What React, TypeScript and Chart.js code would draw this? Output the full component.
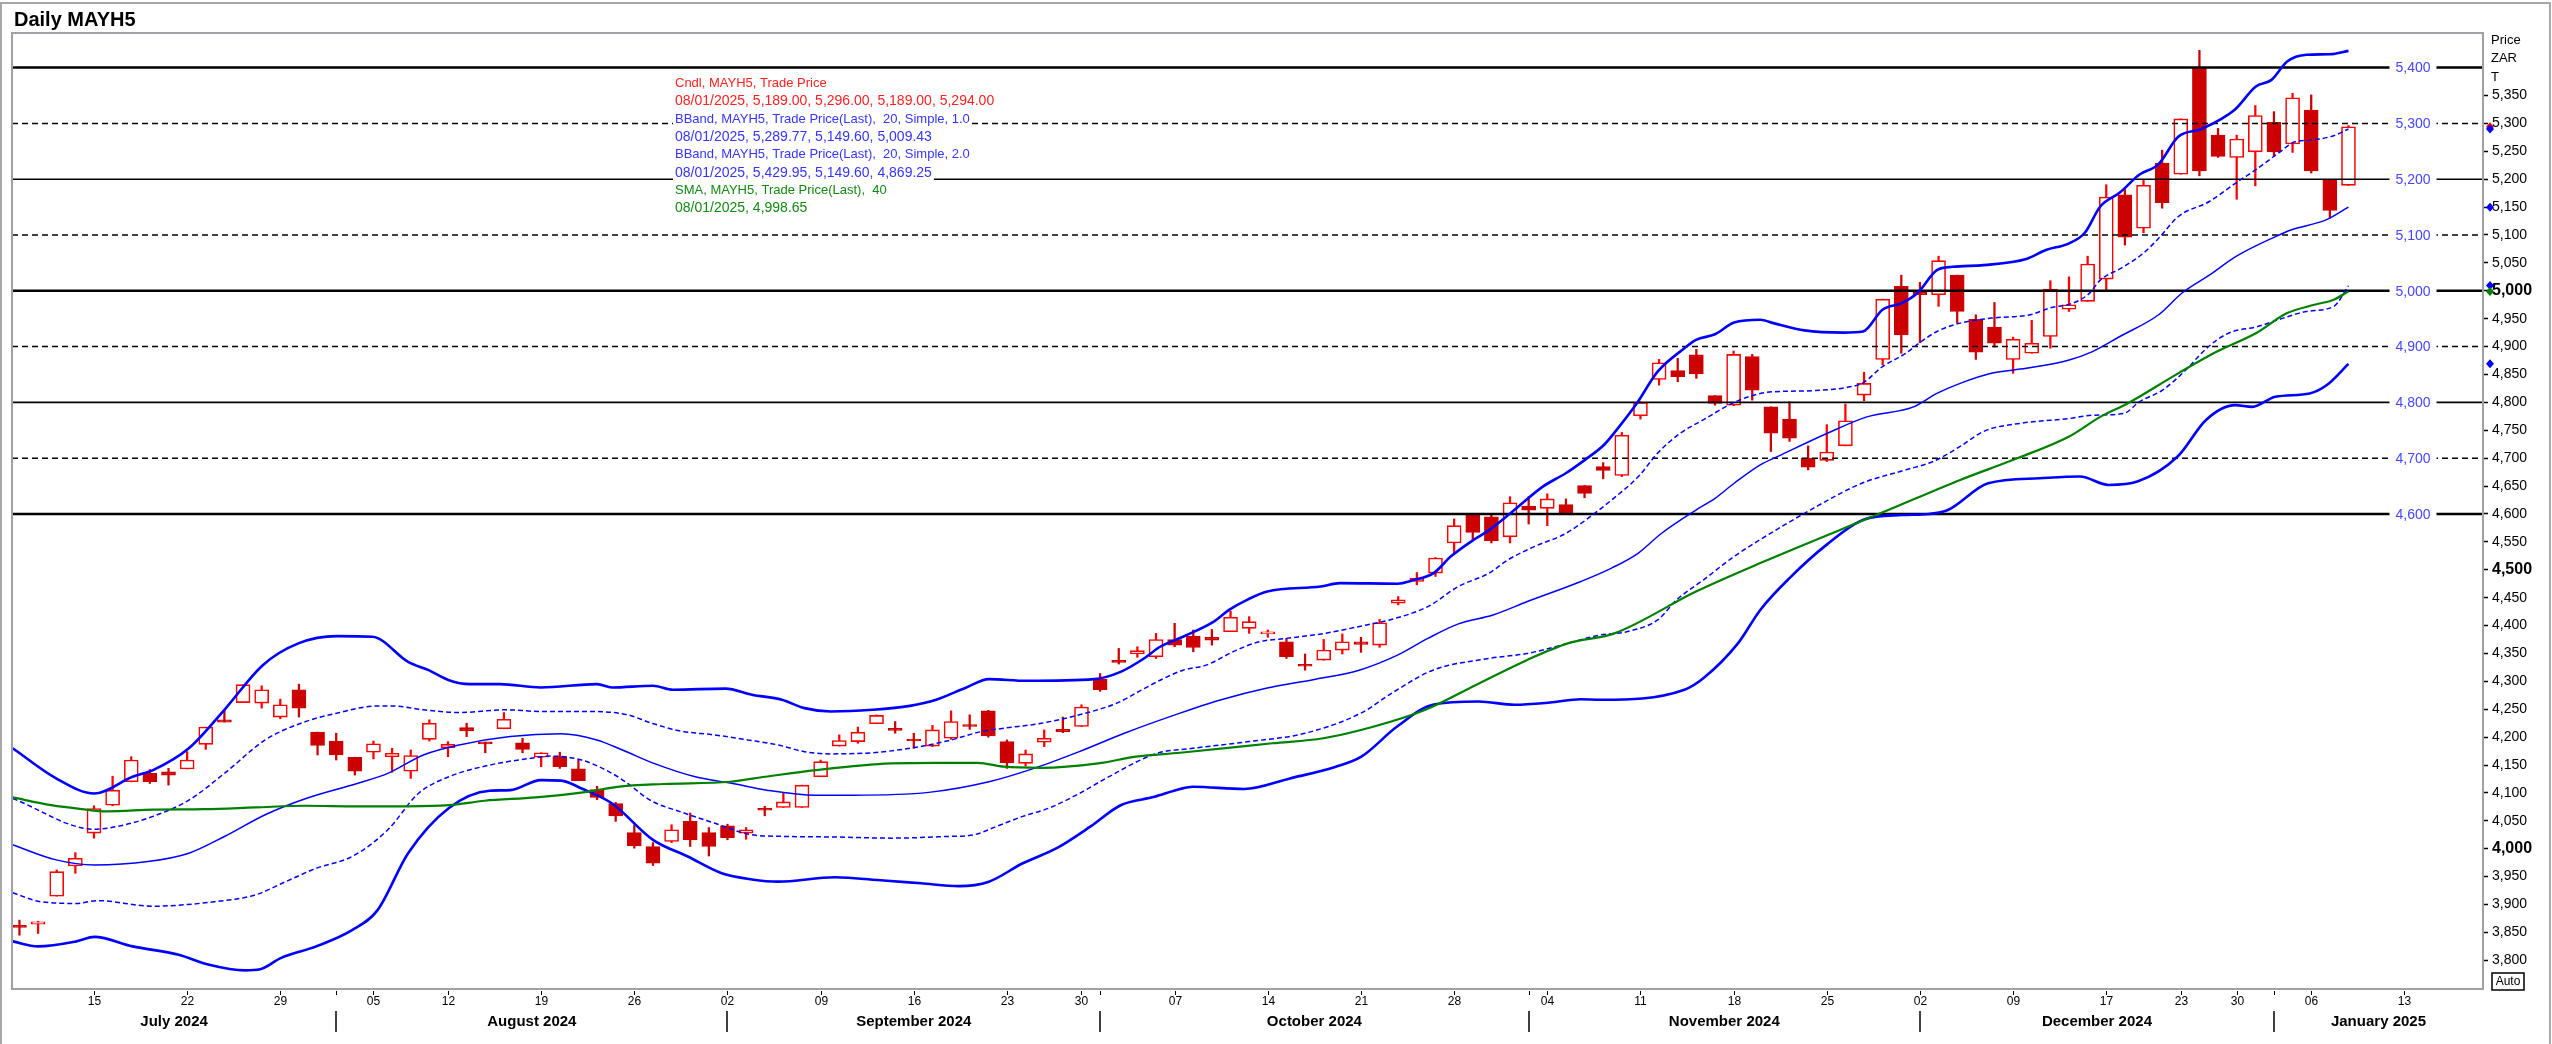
import React, { useEffect, useRef } from 'react';
import { Chart, registerables } from 'chart.js';

Chart.register(...registerables);

const FONT = "'Liberation Sans', Arial, Helvetica, sans-serif";

const TITLE = 'Daily MAYH5';

// Trading-day candles, 09/07/2024 .. 08/01/2025 (index 0..125)
const OPEN = [
  3861, 3865, 3915, 3969, 4028, 4078, 4120, 4135, 4138, 4143,
  4187, 4231, 4262, 4261, 4236, 4285, 4209, 4193, 4164, 4173,
  4165, 4139, 4196, 4181, 4217, 4191, 4215, 4190, 4164, 4165,
  4143, 4106, 4081, 4029, 4004, 4013, 4049, 4029, 4041, 4028,
  4072, 4074, 4074, 4129, 4184, 4192, 4224, 4214, 4195, 4184,
  4198, 4221, 4247, 4192, 4153, 4191, 4214, 4219, 4304, 4337,
  4349, 4344, 4375, 4381, 4379, 4389, 4395, 4385, 4371, 4329,
  4338, 4356, 4371, 4365, 4440, 4479, 4494, 4548, 4600, 4595,
  4559, 4614, 4610, 4617, 4651, 4685, 4669, 4776, 4841, 4857,
  4885, 4812, 4795, 4882, 4792, 4770, 4700, 4696, 4722, 4813,
  4877, 5008, 4997, 4993, 5028, 4949, 4935, 4877, 4888, 4918,
  4967, 4981, 5021, 5172, 5112, 5229, 5209, 5399, 5279, 5239,
  5249, 5302, 5263, 5324, 5199, 5189,
];
const HIGH = [
  3872, 3870, 3962, 3993, 4077, 4130, 4165, 4142, 4144, 4174,
  4218, 4249, 4294, 4292, 4268, 4295, 4209, 4207, 4164, 4193,
  4180, 4177, 4231, 4192, 4225, 4191, 4244, 4198, 4172, 4173,
  4159, 4112, 4083, 4043, 4011, 4043, 4064, 4038, 4044, 4038,
  4076, 4101, 4114, 4159, 4204, 4218, 4240, 4228, 4207, 4221,
  4247, 4240, 4248, 4195, 4177, 4213, 4236, 4258, 4314, 4359,
  4362, 4386, 4404, 4392, 4393, 4426, 4416, 4392, 4377, 4349,
  4375, 4385, 4379, 4411, 4452, 4495, 4522, 4591, 4600, 4598,
  4631, 4631, 4636, 4627, 4651, 4692, 4746, 4801, 4877, 4879,
  4895, 4812, 4892, 4886, 4792, 4801, 4722, 4760, 4797, 4854,
  4985, 5028, 5015, 5062, 5028, 4957, 4979, 4917, 4947, 5018,
  5025, 5062, 5190, 5182, 5199, 5252, 5308, 5431, 5291, 5279,
  5332, 5321, 5354, 5351, 5199, 5296,
];
const LOW = [
  3845, 3848, 3915, 3956, 4019, 4077, 4120, 4117, 4114, 4143,
  4178, 4227, 4262, 4252, 4233, 4236, 4168, 4159, 4132, 4161,
  4137, 4126, 4193, 4165, 4201, 4172, 4215, 4172, 4147, 4144,
  4122, 4088, 4049, 4001, 3970, 4011, 4004, 3987, 4016, 4017,
  4059, 4074, 4074, 4129, 4184, 4189, 4224, 4207, 4180, 4183,
  4196, 4214, 4200, 4144, 4148, 4183, 4208, 4219, 4282, 4331,
  4343, 4341, 4362, 4353, 4365, 4389, 4386, 4379, 4341, 4320,
  4338, 4349, 4352, 4361, 4437, 4473, 4488, 4530, 4554, 4548,
  4548, 4582, 4579, 4600, 4629, 4663, 4667, 4770, 4831, 4837,
  4843, 4795, 4794, 4804, 4712, 4730, 4679, 4694, 4722, 4803,
  4867, 4888, 4907, 4972, 4942, 4877, 4899, 4852, 4888, 4897,
  4963, 4981, 5000, 5082, 5104, 5148, 5209, 5206, 5239, 5164,
  5188, 5241, 5248, 5211, 5130, 5189,
];
const CLOSE = [
  3859, 3869, 3959, 3983, 4072, 4105, 4159, 4120, 4132, 4159,
  4218, 4227, 4294, 4285, 4258, 4252, 4185, 4168, 4139, 4188,
  4171, 4167, 4225, 4187, 4211, 4188, 4232, 4178, 4172, 4147,
  4122, 4092, 4059, 4005, 3974, 4034, 4016, 4004, 4020, 4034,
  4069, 4084, 4114, 4156, 4194, 4209, 4239, 4212, 4193, 4213,
  4228, 4219, 4202, 4154, 4170, 4198, 4210, 4254, 4285, 4334,
  4355, 4375, 4365, 4361, 4374, 4415, 4407, 4387, 4344, 4327,
  4356, 4371, 4366, 4405, 4446, 4485, 4521, 4579, 4567, 4552,
  4620, 4607, 4627, 4601, 4637, 4678, 4741, 4800, 4871, 4846,
  4851, 4798, 4886, 4822, 4745, 4736, 4684, 4711, 4767, 4834,
  4985, 4921, 4993, 5054, 4963, 4890, 4906, 4913, 4906, 5003,
  4975, 5048, 5168, 5096, 5189, 5158, 5308, 5215, 5241, 5272,
  5314, 5249, 5346, 5215, 5144, 5294,
];

// Indicator lines, [trading-day index, value]
const BB2_UPPER = [
  [-0.36, 4180], [1.97, 4126], [4.02, 4099], [6.07, 4129], [7.17, 4141], [9.09, 4180], [11.0, 4249], [13.06, 4329],
  [14.97, 4368], [17.03, 4381], [18.94, 4380], [20.86, 4335], [21.96, 4320], [23.05, 4302], [24.15, 4295], [25.79, 4295],
  [27.98, 4289], [31.0, 4295], [31.8, 4289], [34.0, 4292], [35.07, 4285], [37.89, 4287], [39.31, 4276], [40.92, 4267],
  [42.13, 4252], [43.55, 4246], [45.77, 4249], [47.79, 4256], [49.2, 4267], [50.82, 4289], [52.03, 4304], [54.05, 4301],
  [57.68, 4304], [59.1, 4317], [60.31, 4340], [61.22, 4362], [62.45, 4380], [64.1, 4407], [64.92, 4428], [65.94, 4447],
  [66.97, 4461], [69.84, 4470], [70.87, 4476], [73.96, 4475], [74.78, 4481], [75.9, 4494], [76.83, 4524], [78.06, 4554],
  [78.88, 4571], [80.12, 4604], [81.76, 4649], [82.99, 4673], [84.02, 4697], [85.05, 4724], [85.87, 4757], [86.8, 4798],
  [87.92, 4855], [89.36, 4897], [89.98, 4912], [91.0, 4922], [92.03, 4943], [93.43, 4948], [94.14, 4942], [95.81, 4929],
  [97.9, 4925], [98.94, 4927], [99.99, 4966], [101.03, 4978], [101.87, 4996], [102.91, 5037], [103.75, 5043], [105.42, 5046],
  [107.71, 5057], [108.76, 5073], [110.01, 5085], [110.85, 5104], [111.68, 5151], [112.73, 5176], [113.77, 5208], [114.81, 5227],
  [115.86, 5276], [117.11, 5290], [118.88, 5324], [120.03, 5366], [120.87, 5378], [121.71, 5411], [122.75, 5423], [124.0, 5424],
  [125, 5430],
];
const BB1_UPPER = [
  [-0.36, 4090], [4.02, 4035], [5.25, 4040], [7.17, 4058], [9.09, 4087], [11.0, 4135], [13.19, 4195], [15.11, 4225],
  [17.03, 4243], [19.22, 4256], [20.04, 4256], [21.68, 4249], [23.6, 4244], [26.07, 4249], [27.98, 4246], [30.72, 4246],
  [32.64, 4240], [33.85, 4226], [35.47, 4211], [37.29, 4204], [39.1, 4195], [40.72, 4186], [42.13, 4174], [43.55, 4170],
  [45.77, 4172], [47.38, 4178], [48.8, 4186], [50.01, 4195], [51.63, 4210], [52.84, 4216], [54.86, 4225], [56.88, 4240],
  [58.9, 4261], [60.31, 4286], [61.22, 4302], [62.45, 4320], [63.68, 4329], [65.32, 4356], [66.56, 4371], [67.99, 4377],
  [70.05, 4386], [72.3, 4401], [73.53, 4410], [75.59, 4434], [77.23, 4470], [78.88, 4494], [79.9, 4518], [81.34, 4542],
  [82.99, 4565], [84.42, 4598], [85.45, 4625], [86.89, 4667], [87.92, 4709], [89.15, 4745], [90.39, 4769], [92.03, 4800],
  [93.43, 4816], [94.14, 4819], [96.23, 4821], [98.1, 4827], [98.94, 4835], [99.99, 4864], [101.24, 4888], [102.07, 4909],
  [102.91, 4927], [104.16, 4942], [105.83, 4951], [107.92, 4957], [108.96, 4969], [110.22, 4978], [111.05, 4994], [111.68, 5019],
  [112.93, 5043], [113.98, 5067], [114.81, 5094], [115.86, 5133], [117.53, 5160], [118.99, 5194], [120.03, 5217], [121.29, 5248],
  [122.12, 5267], [122.96, 5270], [124.21, 5278], [125, 5290],
];
const BB_MIDDLE = [
  [-0.36, 4007], [1.97, 3980], [4.02, 3971], [6.89, 3977], [9.09, 3992], [11.0, 4022], [13.19, 4061], [15.38, 4090],
  [18.12, 4117], [19.77, 4135], [21.68, 4168], [23.6, 4186], [26.34, 4201], [29.07, 4206], [30.99, 4195], [32.36, 4177],
  [34.05, 4153], [36.27, 4129], [38.29, 4117], [40.11, 4105], [42.74, 4096], [44.76, 4096], [48.8, 4101], [52.03, 4120],
  [54.45, 4144], [56.88, 4174], [59.3, 4207], [62.29, 4243], [64.5, 4267], [66.97, 4288], [69.43, 4303], [71.9, 4320],
  [73.96, 4347], [75.59, 4377], [77.23, 4403], [79.08, 4419], [80.93, 4443], [83.8, 4479], [85.45, 4503], [86.89, 4530],
  [88.12, 4565], [89.98, 4607], [91.0, 4628], [92.03, 4655], [93.43, 4688], [94.56, 4706], [97.06, 4745], [99.15, 4774],
  [101.66, 4792], [102.91, 4816], [104.16, 4834], [105.83, 4852], [107.71, 4861], [110.01, 4876], [111.26, 4891], [112.73, 4918],
  [114.81, 4957], [116.07, 4996], [117.53, 5028], [118.99, 5062], [121.08, 5097], [121.91, 5109], [123.79, 5127], [125, 5150],
];
const BB1_LOWER = [
  [-0.36, 3921], [1.14, 3905], [3.06, 3902], [4.16, 3907], [7.17, 3897], [10.45, 3905], [12.64, 3917], [14.29, 3941],
  [15.93, 3965], [17.85, 3986], [19.77, 4034], [21.41, 4099], [23.05, 4129], [25.24, 4150], [27.43, 4162], [28.53, 4166],
  [30.17, 4159], [31.81, 4135], [32.64, 4117], [33.85, 4087], [35.67, 4064], [37.29, 4046], [39.31, 4025], [41.13, 4022],
  [43.75, 4021], [46.78, 4019], [49.81, 4022], [51.23, 4025], [52.44, 4040], [53.85, 4058], [55.27, 4073], [56.88, 4099],
  [58.3, 4126], [61.06, 4171], [62.98, 4180], [65.99, 4192], [69.0, 4207], [72.0, 4243], [73.66, 4279], [75.86, 4320],
  [78.87, 4341], [80.93, 4350], [82.78, 4365], [84.83, 4383], [86.27, 4389], [87.92, 4410], [88.94, 4446], [90.39, 4482],
  [92.03, 4524], [93.43, 4554], [96.11, 4607], [98.88, 4655], [101.24, 4679], [102.7, 4694], [104.16, 4721], [105.42, 4748],
  [107.5, 4763], [110.01, 4771], [111.26, 4777], [112.93, 4780], [113.77, 4801], [115.02, 4822], [116.27, 4858], [117.11, 4888],
  [117.94, 4912], [118.78, 4927], [120.03, 4935], [121.5, 4951], [122.75, 4963], [124.21, 4972], [125, 5009],
];
const BB2_LOWER = [
  [-0.36, 3834], [0.99, 3825], [3.06, 3834], [4.02, 3842], [6.07, 3825], [8.54, 3810], [10.18, 3792], [12.1, 3782],
  [12.92, 3784], [14.02, 3804], [15.93, 3825], [17.85, 3854], [19.22, 3890], [20.86, 3992], [23.05, 4073], [25.24, 4104],
  [26.34, 4105], [27.98, 4123], [29.07, 4122], [30.17, 4108], [31.81, 4081], [34.0, 4016], [35.87, 3986], [37.69, 3956],
  [39.31, 3945], [40.72, 3941], [43.75, 3949], [46.38, 3943], [48.4, 3938], [50.42, 3933], [52.03, 3941], [53.85, 3974],
  [55.67, 4001], [57.49, 4040], [59.1, 4078], [60.92, 4093], [62.29, 4107], [62.98, 4111], [65.72, 4107], [68.19, 4126],
  [70.65, 4147], [72.02, 4165], [73.94, 4219], [75.86, 4258], [78.32, 4264], [80.24, 4258], [82.15, 4262], [83.8, 4268],
  [84.84, 4267], [89.36, 4285], [90.39, 4306], [92.23, 4368], [93.43, 4428], [95, 4485], [97, 4545], [99, 4590],
  [101, 4598], [102.5, 4600], [103.5, 4607], [105.66, 4655], [108.43, 4664], [110.59, 4667], [112.13, 4652], [113.67, 4658],
  [115.83, 4703], [117.37, 4769], [118.91, 4795], [119.83, 4792], [121.07, 4810], [122.92, 4816], [123.84, 4831], [125, 4869],
];
const SMA40 = [
  [-0.36, 4092], [1.7, 4078], [3.34, 4071], [4.7, 4067], [7.17, 4070], [9.91, 4071], [12.65, 4074], [15.38, 4077],
  [18.12, 4076], [20.86, 4076], [23.05, 4078], [24.97, 4086], [27.71, 4092], [30.45, 4102], [32.09, 4111], [34.56, 4116],
  [38.12, 4120], [40.03, 4129], [42.74, 4141], [46.78, 4153], [49.2, 4154], [51.43, 4154], [52.84, 4147], [54.86, 4145],
  [57.89, 4153], [59.91, 4165], [62.29, 4172], [67.25, 4189], [69.98, 4198], [72.7, 4219], [75.46, 4249], [78.2, 4294],
  [80.9, 4338], [83.1, 4368], [85.6, 4386], [89.98, 4461], [93.43, 4512], [100.3, 4607], [104.16, 4661], [107.08, 4698],
  [110.01, 4739], [111.68, 4774], [113.14, 4798], [115.86, 4852], [117.94, 4891], [120.03, 4924], [121.71, 4960], [123.17, 4975],
  [124.21, 4984], [125, 4999],
];

// Horizontal reference levels
const SOLID_LEVELS = [5400, 5200, 5000, 4800, 4600];
const HEAVY_LEVELS = [5400, 5000, 4600];
const DASHED_LEVELS = [5300, 5100, 4900, 4700];

const Y_TICKS = [
  3800, 3850, 3900, 3950, 4000, 4050, 4100, 4150, 4200, 4250, 4300, 4350, 4400, 4450, 4500, 4550,
  4600, 4650, 4700, 4750, 4800, 4850, 4900, 4950, 5000, 5050, 5100, 5150, 5200, 5250, 5300, 5350,
];
const Y_MIN = 3748.6;
const Y_MAX = 5462;
const X_MIN = -0.4;
const X_MAX = 132.22;

const DAY_TICK_INDEX = [4, 9, 14, 19, 23, 28, 33, 38, 43, 48, 53, 57, 62, 67, 72, 77, 82, 87, 92, 97, 102, 107, 112, 116, 119, 123, 128];
const DAY_TICK_LABELS = ['15', '22', '29', '05', '12', '19', '26', '02', '09', '16', '23', '30', '07', '14', '21', '28', '04', '11', '18', '25', '02', '09', '17', '23', '30', '06', '13'];
const MONTH_START_INDEX = [17, 38, 58, 81, 102, 121];
const MONTH_LABELS = ['July 2024', 'August 2024', 'September 2024', 'October 2024', 'November 2024', 'December 2024', 'January 2025'];

const LEGEND_LINES = [
  'Cndl, MAYH5, Trade Price',
  '08/01/2025, 5,189.00, 5,296.00, 5,189.00, 5,294.00',
  'BBand, MAYH5, Trade Price(Last),  20, Simple, 1.0',
  '08/01/2025, 5,289.77, 5,149.60, 5,009.43',
  'BBand, MAYH5, Trade Price(Last),  20, Simple, 2.0',
  '08/01/2025, 5,429.95, 5,149.60, 4,869.25',
  'SMA, MAYH5, Trade Price(Last),  40',
  '08/01/2025, 4,998.65',
];
const LEGEND_COLORS = ['#ff2020', '#ff2020', '#3535ff', '#3535ff', '#3535ff', '#3535ff', '#118811', '#118811'];

const MARKER_VALUES = [5294, 5289.77, 5149.6, 5009.43, 4998.65, 4869.25];
const MARKER_COLORS = ['#ff0000', '#0000ff', '#0000ff', '#0000ff', '#008000', '#0000ff'];

const UP_FILL = '#ffffff';
const UP_LINE = '#ff0000';
const DOWN_FILL = '#cc0000';

const isUp = (i: number) => CLOSE[i] >= OPEN[i];
const fmt = (v: number) => Number(v).toLocaleString('en-US');
const toPts = (arr: number[][]) => arr.map(([x, y]) => ({ x, y }));

const overlayPlugin = {
  id: 'overlay',
  afterDraw(chart: any) {
    const ctx = chart.ctx as CanvasRenderingContext2D;
    const a = chart.chartArea;
    const xs = chart.scales.x;
    const ys = chart.scales.y;
    ctx.save();

    // outer frame
    ctx.strokeStyle = '#a8a8a8';
    ctx.lineWidth = 2;
    ctx.beginPath();
    ctx.moveTo(1, 1044);
    ctx.lineTo(1, 3);
    ctx.lineTo(2550, 3);
    ctx.lineTo(2550, 1044);
    ctx.stroke();

    // plot frame
    ctx.strokeStyle = '#a0a0a8';
    ctx.lineWidth = 2;
    ctx.strokeRect(a.left, a.top, a.right - a.left, a.bottom - a.top);

    // title
    ctx.fillStyle = '#000';
    ctx.font = `bold 20px ${FONT}`;
    ctx.textAlign = 'left';
    ctx.textBaseline = 'alphabetic';
    ctx.fillText(TITLE, 14, 26);

    // legend block (value rows are set a little wider, as in the source)
    ctx.textBaseline = 'middle';
    LEGEND_LINES.forEach((t, k) => {
      ctx.font = k % 2 === 1 ? `14px ${FONT}` : `13px ${FONT}`;
      const y = 83.5 + k * 17.85;
      const w = ctx.measureText(t).width;
      ctx.fillStyle = '#ffffff';
      ctx.fillRect(673, y - 9, w + 4, 18);
      ctx.fillStyle = LEGEND_COLORS[k];
      ctx.fillText(t, 675, y);
    });

    // in-plot level labels
    ctx.font = `14px ${FONT}`;
    ctx.textAlign = 'center';
    [...SOLID_LEVELS, ...DASHED_LEVELS].forEach((lv) => {
      const y = ys.getPixelForValue(lv);
      const t = fmt(lv);
      const w = ctx.measureText(t).width;
      const cx = 2413;
      ctx.fillStyle = '#ffffff';
      ctx.fillRect(cx - w / 2 - 6, y - 8, w + 12, 16);
      ctx.fillStyle = '#4545ff';
      ctx.fillText(t, cx, y + 1);
    });

    // axis header
    ctx.fillStyle = '#000';
    ctx.textAlign = 'left';
    ctx.font = `13px ${FONT}`;
    ctx.fillText('Price', a.right + 8, 40);
    ctx.fillText('ZAR', a.right + 8, 58);
    ctx.fillText('T', a.right + 8, 77);

    // Auto box
    ctx.strokeStyle = '#000';
    ctx.lineWidth = 1.5;
    ctx.strokeRect(a.right + 9, 973, 32, 17);
    ctx.font = `12px ${FONT}`;
    ctx.textAlign = 'center';
    ctx.fillText('Auto', a.right + 25, 982);

    // last-value markers
    MARKER_VALUES.forEach((v, k) => {
      const y = ys.getPixelForValue(v);
      const x = a.right + 7;
      ctx.fillStyle = MARKER_COLORS[k];
      ctx.beginPath();
      ctx.moveTo(x, y - 4.5);
      ctx.lineTo(x + 4, y);
      ctx.lineTo(x, y + 4.5);
      ctx.lineTo(x - 4, y);
      ctx.closePath();
      ctx.fill();
    });

    // x axis: day ticks & labels
    ctx.fillStyle = '#000';
    ctx.strokeStyle = '#000';
    ctx.lineWidth = 1;
    ctx.font = `12px ${FONT}`;
    ctx.textAlign = 'center';
    ctx.textBaseline = 'middle';
    DAY_TICK_INDEX.forEach((idx, k) => {
      const x = Math.round(xs.getPixelForValue(idx)) + 0.5;
      ctx.beginPath();
      ctx.moveTo(x, a.bottom + 2);
      ctx.lineTo(x, a.bottom + 6);
      ctx.stroke();
      ctx.fillText(DAY_TICK_LABELS[k], x, a.bottom + 13);
    });
    MONTH_START_INDEX.forEach((idx) => {
      const x = Math.round(xs.getPixelForValue(idx)) + 0.5;
      ctx.beginPath();
      ctx.moveTo(x, a.bottom + 2);
      ctx.lineTo(x, a.bottom + 6);
      ctx.stroke();
    });

    // month separators and labels
    const bounds = [a.left, ...MONTH_START_INDEX.map((idx) => xs.getPixelForValue(idx)), a.right];
    ctx.lineWidth = 1.5;
    MONTH_START_INDEX.forEach((idx) => {
      const x = Math.round(xs.getPixelForValue(idx));
      ctx.beginPath();
      ctx.moveTo(x, a.bottom + 22);
      ctx.lineTo(x, a.bottom + 43);
      ctx.stroke();
    });
    ctx.font = `bold 15px ${FONT}`;
    MONTH_LABELS.forEach((m, k) => {
      const cx = (bounds[k] + bounds[k + 1]) / 2;
      ctx.fillText(m, cx, a.bottom + 33);
    });

    ctx.restore();
  },
};

export default function App() {
  const ref = useRef<HTMLCanvasElement | null>(null);

  useEffect(() => {
    const canvas = ref.current;
    if (!canvas) return;
    Chart.defaults.font.family = FONT;

    const levelSets = [
      ...SOLID_LEVELS.map((lv) => ({
        type: 'line',
        data: [{ x: X_MIN, y: lv }, { x: X_MAX, y: lv }],
        borderColor: '#000000',
        borderWidth: HEAVY_LEVELS.includes(lv) ? 2.5 : 1.6,
        pointRadius: 0,
        fill: false,
        order: 10,
      })),
      ...DASHED_LEVELS.map((lv) => ({
        type: 'line',
        data: [{ x: X_MIN, y: lv }, { x: X_MAX, y: lv }],
        borderColor: '#000000',
        borderWidth: 1.5,
        borderDash: [6, 4],
        pointRadius: 0,
        fill: false,
        order: 10,
      })),
    ];

    const line = (arr: number[][], color: string, width: number, dash: number[], order: number) => ({
      type: 'line',
      data: toPts(arr),
      borderColor: color,
      borderWidth: width,
      borderDash: dash,
      pointRadius: 0,
      fill: false,
      cubicInterpolationMode: 'monotone',
      order,
    });

    const chart = new Chart(canvas, {
      type: 'bar',
      data: {
        datasets: [
          {
            type: 'bar',
            data: OPEN.map((_, i) => ({ x: i, y: [LOW[i], HIGH[i]] })),
            backgroundColor: (c: any) => (isUp(c.dataIndex) ? UP_LINE : DOWN_FILL),
            borderWidth: 0,
            barThickness: 1.6,
            grouped: false,
            order: 30,
          },
          {
            type: 'bar',
            data: OPEN.map((o, i) => ({ x: i, y: [o, CLOSE[i]] })),
            backgroundColor: (c: any) => (isUp(c.dataIndex) ? UP_FILL : DOWN_FILL),
            borderColor: (c: any) => (isUp(c.dataIndex) ? UP_LINE : DOWN_FILL),
            borderWidth: 1.6,
            borderSkipped: false,
            barThickness: 14,
            minBarLength: 2,
            grouped: false,
            order: 20,
          },
          ...levelSets,
          line(BB2_LOWER, '#0000ff', 2.6, [], 3),
          line(BB1_LOWER, '#0000ff', 1.5, [5, 3], 3),
          line(BB_MIDDLE, '#0000ff', 1.5, [], 3),
          line(BB1_UPPER, '#0000ff', 1.5, [5, 3], 3),
          line(BB2_UPPER, '#0000ff', 2.6, [], 3),
          line(SMA40, '#008000', 2.2, [], 2),
        ] as any,
      },
      options: {
        responsive: false,
        animation: false,
        devicePixelRatio: 1,
        events: [],
        layout: { padding: { left: 12, top: 33, right: 0, bottom: 55 } },
        plugins: {
          legend: { display: false },
          tooltip: { enabled: false },
          title: { display: false },
        },
        scales: {
          x: {
            type: 'linear',
            min: X_MIN,
            max: X_MAX,
            display: false,
            offset: false,
          },
          y: {
            type: 'linear',
            position: 'right',
            min: Y_MIN,
            max: Y_MAX,
            afterBuildTicks: (scale: any) => {
              scale.ticks = Y_TICKS.map((v) => ({ value: v }));
            },
            afterFit: (scale: any) => {
              scale.width = 69;
            },
            grid: {
              drawOnChartArea: false,
              drawTicks: true,
              tickLength: 5,
              tickColor: '#000000',
              tickWidth: 1.5,
            },
            border: { display: false },
            ticks: {
              autoSkip: false,
              padding: 4,
              color: '#000000',
              font: (c: any) =>
                c.tick && c.tick.value % 500 === 0
                  ? { family: FONT, size: 16, weight: 'bold' }
                  : { family: FONT, size: 14, weight: 'normal' },
              callback: (v: any) => fmt(Number(v)),
            },
          },
        },
      } as any,
      plugins: [overlayPlugin],
    } as any);

    return () => chart.destroy();
  }, []);

  return (
    <div style={{ position: 'absolute', left: 0, top: 0, width: 2552, height: 1044, background: '#ffffff' }}>
      <canvas ref={ref} width={2552} height={1044} style={{ display: 'block', width: 2552, height: 1044 }} />
    </div>
  );
}
